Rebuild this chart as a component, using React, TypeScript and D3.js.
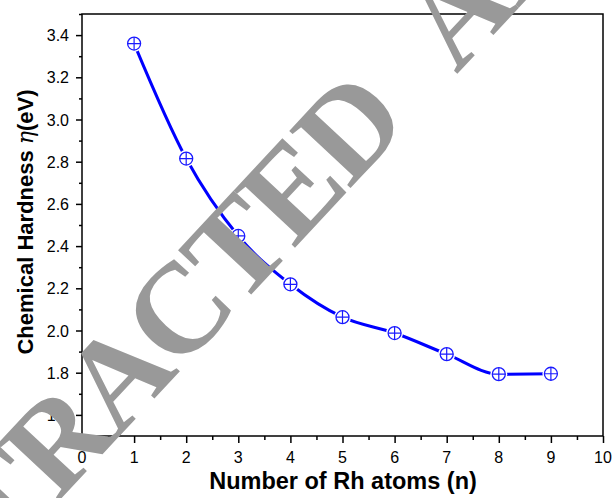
import React, { useEffect, useRef } from "react";
import * as d3 from "d3";

// data
const atoms = [1, 2, 3, 4, 5, 6, 7, 8, 9];
const hardness = [3.36, 2.815, 2.448, 2.219, 2.063, 1.988, 1.888, 1.793, 1.795];
const xTicks = [0, 1, 2, 3, 4, 5, 6, 7, 8, 9, 10];
const yTicks = [1.6, 1.8, 2.0, 2.2, 2.4, 2.6, 2.8, 3.0, 3.2, 3.4];

const App = () => {
  const svgRef = useRef<SVGSVGElement>(null);

  useEffect(() => {
    const width = 614;
    const height = 498;
    const m = { left: 82, top: 14, right: 11, bottom: 62 };

    const svg = d3.select(svgRef.current);
    svg.selectAll("*").remove();

    const x = d3.scaleLinear().domain([0, 10]).range([m.left, width - m.right]);
    const y = d3.scaleLinear().domain([1.5, 3.5]).range([height - m.bottom, m.top]);

    const font = "'Liberation Sans', Arial, sans-serif";

    // frame
    svg
      .append("rect")
      .attr("x", x(0))
      .attr("y", y(3.5))
      .attr("width", x(10) - x(0))
      .attr("height", y(1.5) - y(3.5))
      .attr("fill", "none")
      .attr("stroke", "#000")
      .attr("stroke-width", 1.5);

    // x axis
    const xAxis = svg.append("g").attr("transform", `translate(0,${y(1.5)})`);
    xAxis
      .call(
        d3
          .axisBottom(x)
          .tickValues(d3.range(0, 10.01, 0.5))
          .tickSize(4)
          .tickFormat(() => "")
      )
      .call((g) => g.select(".domain").remove());
    xAxis.selectAll("line").attr("stroke-width", 1.5);
    xAxis
      .selectAll(".tick")
      .filter((d: any) => Number.isInteger(d))
      .select("line")
      .attr("y2", 7);
    xAxis
      .selectAll(".lbl")
      .data(xTicks)
      .enter()
      .append("text")
      .attr("x", (d) => x(d))
      .attr("y", 27)
      .attr("text-anchor", "middle")
      .attr("fill", "#000")
      .style("font-family", font)
      .style("font-size", "16px")
      .text((d) => d);

    // y axis
    const yAxis = svg.append("g").attr("transform", `translate(${x(0)},0)`);
    yAxis
      .call(
        d3
          .axisLeft(y)
          .tickValues(d3.range(15, 35.1, 1).map((v) => v / 10))
          .tickSize(3)
          .tickFormat(() => "")
      )
      .call((g) => g.select(".domain").remove());
    yAxis.selectAll("line").attr("stroke-width", 1.5);
    yAxis
      .selectAll(".tick")
      .filter((d: any) => Math.round(d * 10) % 2 === 0)
      .select("line")
      .attr("x2", -6);
    yAxis
      .selectAll(".lbl")
      .data(yTicks)
      .enter()
      .append("text")
      .attr("x", -13)
      .attr("y", (d) => y(d) + 6)
      .attr("text-anchor", "end")
      .attr("fill", "#000")
      .style("font-family", font)
      .style("font-size", "16px")
      .text((d) => d.toFixed(1));

    // axis titles
    svg
      .append("text")
      .attr("x", 343)
      .attr("y", 489)
      .attr("text-anchor", "middle")
      .style("font-family", font)
      .style("font-size", "23.5px")
      .style("font-weight", "bold")
      .text("Number of Rh atoms (n)");

    const yt = svg
      .append("text")
      .attr("transform", `translate(33,222) rotate(-90)`)
      .attr("text-anchor", "middle")
      .style("font-family", font)
      .style("font-size", "22px")
      .style("font-weight", "bold");
    yt.append("tspan").text("Chemical Hardness ");
    yt.append("tspan")
      .style("font-family", "'DejaVu Serif', serif")
      .style("font-style", "italic")
      .style("font-weight", "normal")
      .text("η");
    yt.append("tspan").text("(eV)");

    // line
    const pts = atoms.map((a, i) => [a, hardness[i]] as [number, number]);
    const line = d3
      .line<[number, number]>()
      .x((d) => x(d[0]))
      .y((d) => y(d[1]))
      .curve(d3.curveMonotoneX);
    svg
      .append("path")
      .datum(pts)
      .attr("d", line)
      .attr("fill", "none")
      .attr("stroke", "#0000ff")
      .attr("stroke-width", 3);

    // markers (circle with plus)
    const mk = svg
      .selectAll(".mk")
      .data(pts)
      .enter()
      .append("g")
      .attr("transform", (d) => `translate(${x(d[0])},${y(d[1])})`);
    mk.append("circle").attr("r", 8.5).attr("fill", "#fff");
    mk.append("circle")
      .attr("r", 6.5)
      .attr("fill", "#fff")
      .attr("stroke", "#1a1aff")
      .attr("stroke-width", 1.3);
    mk.append("path")
      .attr("d", "M-6.5,0H6.5M0,-6.5V6.5")
      .attr("stroke", "#1a1aff")
      .attr("stroke-width", 1.2);

    // watermark
    svg
      .append("text")
      .attr("transform", "translate(57,503) rotate(-47)")
      .attr("x", -251)
      .attr("y", 0)
      .style("font-family", "'Liberation Serif', 'Times New Roman', serif")
      .style("font-size", "128px")
      .style("font-weight", "bold")
      .style("letter-spacing", "-4px")
      .style("word-spacing", "48px")
      .attr("fill", "#999999")
      .text("RETRACTED ARTICLE");
  }, []);

  return (
    <svg
      ref={svgRef}
      width={614}
      height={498}
      style={{ position: "absolute", left: 0, top: 0, background: "#fff" }}
    ></svg>
  );
};

export default App;
